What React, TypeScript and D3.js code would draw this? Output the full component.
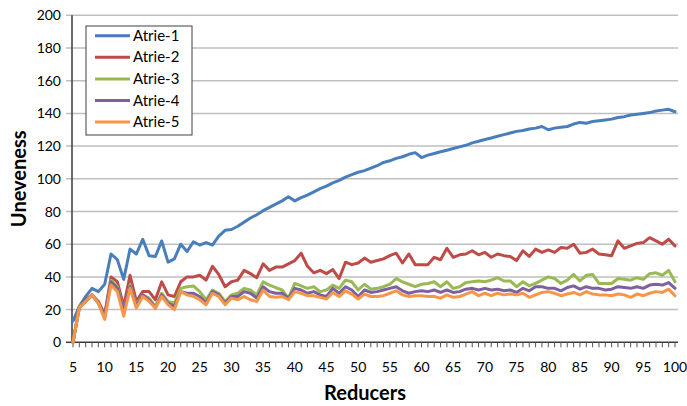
import React from 'react';
import * as d3 from 'd3';

const reducers = d3.range(5, 101);

const atrie1 = [13, 22, 28, 33, 31, 35.5, 54, 50.5, 38.5, 57, 54, 63, 53, 52.5, 62, 49,
  51, 60, 55.5, 61.5, 59.5, 61, 59.5, 65, 68.5, 69, 71, 73.5, 76, 78, 80.5, 82.5,
  84.5, 86.5, 89, 86.5, 88.5, 90, 92, 94, 95.5, 97.5, 99, 101, 102.5, 104, 105, 106.5,
  108, 110, 111, 112.5, 113.5, 115, 116, 113, 114.5, 115.5, 116.5, 117.5, 118.5, 119.5,
  120.5, 122, 123, 124, 125, 126, 127, 128, 129, 129.5, 130.5, 131, 132, 130, 131, 131.5,
  132, 133.5, 134.5, 134, 135, 135.5, 136, 136.5, 137.5, 138, 139, 139.5, 140, 140.5,
  141.5, 142, 142.5, 141];

const atrie2 = [0, 22, 26, 29, 25, 17, 40, 37, 22, 41, 25, 31, 31, 26, 37, 29,
  28, 37, 40, 40, 41, 38, 46.5, 41.5, 34, 37, 38, 44, 42, 39.5, 48, 44,
  46, 46, 48, 50, 54.5, 46.5, 42.5, 44, 42, 44.5, 39, 49, 47.5, 48.5, 51.5, 49,
  50, 51, 53, 54.5, 48.5, 54, 47.5, 47.5, 47.5, 52, 50.5, 57.5, 52, 53.5,
  54, 56, 53.5, 55, 52, 54, 53, 52.5, 50, 56, 52.5, 57, 55, 56.5, 55, 58,
  57.5, 60, 54.5, 55, 57, 54, 53.5, 53, 62, 57.5, 59, 60.5, 61, 64, 62, 60, 63, 59];

const atrie3 = [0, 22, 25, 29, 24, 15, 38, 34, 19, 35, 23, 29, 27, 22, 30, 25,
  24, 33, 34, 34.5, 31, 26, 32, 30, 25, 29, 30, 33, 32, 29, 37, 35,
  33.5, 32, 27, 36, 34.5, 33, 34, 31, 32, 35, 33, 38, 37, 32, 35.5, 32.5,
  33, 34, 35.5, 39, 37, 35.5, 34, 35.5, 36, 37, 34, 37, 33, 34,
  36.5, 37, 37.5, 37, 38, 39.5, 37.5, 37.5, 34, 37, 34.5, 36, 38, 40, 39, 36,
  38, 41.5, 37.5, 41, 41.5, 36, 36, 36, 39, 38.5, 38, 39.5, 38.5, 42, 42.5, 41, 44, 37];

const atrie4 = [0, 21, 25, 29, 24, 16, 37, 33, 19, 34, 22, 29, 26, 21, 29, 24,
  22, 31, 30, 30, 28, 24, 31, 29, 24, 28, 28, 31, 30, 27, 34, 31,
  30, 30, 27, 33, 32, 30, 31, 29, 28, 33, 30, 34, 32, 28, 32, 30.5,
  31, 32, 33, 34, 31.5, 30, 31, 31.5, 31, 32, 30.5, 32, 30.5, 31,
  32.5, 33, 32, 33, 32, 32.5, 31.5, 32, 30.5, 33, 31.5, 34, 34, 33, 33, 31.5,
  33.5, 34.5, 32.5, 34, 33, 33, 32, 32.5, 34, 33.5, 33, 34, 33, 35, 35.5, 35, 36.5, 33];

const atrie5 = [0, 21, 25, 29, 24, 14, 35, 31, 16, 33, 21, 28, 25, 21, 28, 23,
  20, 31, 29, 28, 26, 23, 30, 28, 23, 27, 26, 28, 26, 25, 32, 28,
  27.5, 28, 26, 31, 30, 28.5, 28.5, 27.5, 26.5, 30.5, 28, 31.5, 29.5, 26.5, 29.5, 28,
  28, 28.5, 30, 31.5, 29, 28, 28.5, 28.5, 28, 28, 27, 29, 27.5, 28,
  29.5, 31, 28.5, 30, 28.5, 30, 29, 29.5, 29, 30, 27.5, 29, 30.5, 31, 30, 28.5,
  29.5, 30.5, 29, 31, 29.5, 29, 29, 28.5, 29.5, 29, 27.5, 29.5, 28.5, 30, 31, 30.5, 32.5, 28.5];

const seriesNames = ['Atrie-1', 'Atrie-2', 'Atrie-3', 'Atrie-4', 'Atrie-5'];
const seriesValues = [atrie1, atrie2, atrie3, atrie4, atrie5];
const seriesColors = ['#4a7ebb', '#be4b48', '#98b954', '#7d60a0', '#f79646'];
const yTicks = [0, 20, 40, 60, 80, 100, 120, 140, 160, 180, 200];
const xTicks = d3.range(5, 101, 5);

const W = 687;
const H = 406;
const font = 'Lato, "Liberation Sans", sans-serif';

export default function App() {
  const x = d3.scaleLinear().domain([5, 100]).range([73, 675]);
  const y = d3.scaleLinear().domain([0, 200]).range([342.3, 15.3]);

  const line = d3.line<number>()
    .x((d, i) => x(reducers[i]))
    .y(d => y(d));

  const left = 72;
  const right = 678;

  return (
    <svg width={W} height={H} style={{ position: 'absolute', left: 0, top: 0, background: '#fff' }}>
      {/* gridlines */}
      {yTicks.map(t => (
        <line key={'g' + t} x1={left - 6} x2={right} y1={y(t)} y2={y(t)}
          stroke={t === 0 ? 'none' : '#bfbfbf'} strokeWidth={1.5} />
      ))}
      {/* y axis */}
      <line x1={left} x2={left} y1={y(200)} y2={y(0)} stroke="#3a3a3a" strokeWidth={1.5} />
      <line x1={left - 6} x2={left} y1={y(0)} y2={y(0)} stroke="#3a3a3a" strokeWidth={1.5} />
      {yTicks.map(t => (
        <text key={'yl' + t} x={61} y={y(t) + 5} textAnchor="end"
          fontFamily={font} fontSize={14} fill="#000">{t}</text>
      ))}
      {/* x axis */}
      <line x1={left} x2={right} y1={y(0)} y2={y(0)} stroke="#3a3a3a" strokeWidth={1.5} />
      {reducers.map(r => (
        <line key={'xt' + r} x1={x(r)} x2={x(r)} y1={y(0)} y2={y(0) + 5}
          stroke="#555" strokeWidth={1} />
      ))}
      {xTicks.map(t => (
        <text key={'xl' + t} x={x(t)} y={372} textAnchor="middle"
          fontFamily={font} fontSize={14} fill="#000">{t}</text>
      ))}

      {/* series */}
      {seriesValues.map((vals, i) => (
        <path key={seriesNames[i]} d={line(vals) || ''} fill="none"
          stroke={seriesColors[i]} strokeWidth={3} strokeLinejoin="round" strokeLinecap="round" />
      ))}

      {/* axis titles */}
      <text x={365} y={400} textAnchor="middle" fontFamily={font} fontSize={20}
        fontWeight="bold" fill="#000">Reducers</text>
      <text transform={`translate(26, ${y(100)}) rotate(-90)`} textAnchor="middle"
        fontFamily={font} fontSize={20} fontWeight="bold" fill="#000">Uneveness</text>

      {/* legend */}
      <rect x={86} y={26} width={106} height={109} fill="#fff" stroke="#404040" strokeWidth={1} />
      {seriesNames.map((n, i) => {
        const ly = 35.7 + i * 21.6;
        return (
          <g key={'lg' + n}>
            <line x1={95} x2={130} y1={ly} y2={ly} stroke={seriesColors[i]} strokeWidth={3} />
            <text x={133} y={ly + 5} fontFamily={font} fontSize={15} fill="#000">{n}</text>
          </g>
        );
      })}
    </svg>
  );
}
